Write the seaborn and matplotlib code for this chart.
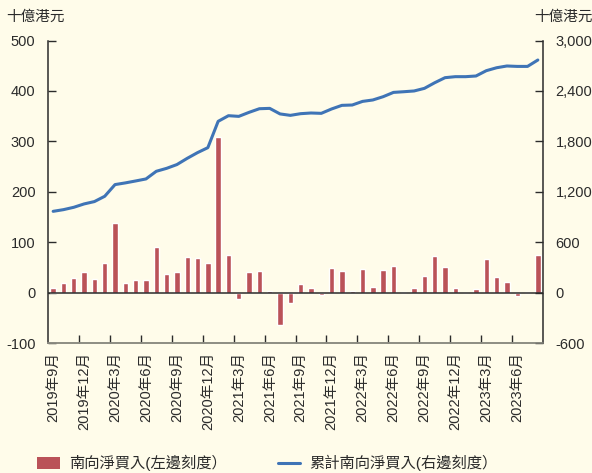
import numpy as np
import pandas as pd
import matplotlib
matplotlib.use("Agg")
import matplotlib.pyplot as plt
from matplotlib.patches import Patch
from matplotlib.lines import Line2D
from matplotlib.ticker import FuncFormatter, FixedLocator
import seaborn as sns

# Monthly southbound net buying (HK$ bn) and the cumulative total
months = pd.period_range("2019-09", "2023-08", freq="M").strftime("%Y-%m").tolist()

net_buy = [9.2, 18.5, 29.7, 41.0, 27.7, 60.0, 138.6, 19.0, 25.7, 25.0,
           90.4, 37.6, 41.0, 70.6, 70.0, 60.0, 309.6, 74.0, -12.5, 42.2,
           42.9, 4.6, -63.4, -19.8, 17.2, 9.2, -4.6, 49.5, 43.6, 4.0,
           48.2, 10.6, 45.5, 52.8, 2.0, 8.6, 34.3, 73.3, 50.2, 9.2,
           0.0, 7.9, 66.7, 31.0, 22.4, -6.6, 2.0, 75.2]

cumulative = [969, 989, 1017, 1057, 1085, 1148, 1287, 1307, 1330, 1354,
              1445, 1480, 1525, 1599, 1667, 1726, 2039, 2106, 2098, 2146,
              2189, 2193, 2127, 2110, 2130, 2138, 2134, 2186, 2229, 2233,
              2276, 2293, 2332, 2383, 2391, 2400, 2431, 2498, 2558, 2570,
              2570, 2578, 2641, 2676, 2697, 2692, 2692, 2768]

tick_labels = [f"{m[:4]}年{int(m[5:])}月" for m in months]

left_ticks = [-100, 0, 100, 200, 300, 400, 500]
right_ticks = [-600, 0, 600, 1200, 1800, 2400, 3000]

unit_label = "十億港元"
bar_label = "南向淨買入(左邊刻度）"
line_label = "累計南向淨買入(右邊刻度）"

BG = "#FFFCEA"
BAR = "#BA5258"
LINE = "#3F74B6"
INK = "#2B2B2B"

sns.set_theme(style="white")
plt.rcParams["font.family"] = ["Liberation Sans", "Noto Sans CJK TC", "DejaVu Sans"]
plt.rcParams["axes.unicode_minus"] = False

df = pd.DataFrame({"month": months, "net": net_buy, "cum": cumulative})

fig = plt.figure(figsize=(5.92, 4.73), dpi=100, facecolor=BG)
ax = fig.add_axes([48 / 592, 1 - 343.3 / 473, (543 - 48) / 592, (343.3 - 40.5) / 473])
ax.set_facecolor(BG)

sns.barplot(data=df, x="month", y="net", order=months, color=BAR,
            width=0.52, saturation=1, ax=ax)
ax.set_xlim(-0.5, len(months) - 0.5)
ax.set_ylim(-100, 500)
ax.axhline(0, color=INK, lw=1.1, zorder=3)

ax2 = ax.twinx()
sns.lineplot(data=df, x="month", y="cum", color=LINE, lw=2.2, ax=ax2, sort=False)
ax2.set_ylim(-600, 3000)
ax.set_xlim(-0.5, len(months) - 0.5)

# x axis: labels every quarter, small marks between the quarters
label_pos = list(range(0, len(months), 3))
ax.set_xticks(label_pos)
ax.set_xticklabels([tick_labels[i] for i in label_pos], rotation=90,
                   fontsize=10.5, color=INK)
ax.tick_params(axis="x", which="major", length=0, pad=6)
ax.xaxis.set_minor_locator(FixedLocator([p + 2.5 for p in label_pos[:-1]]))
ax.tick_params(axis="x", which="minor", direction="in", length=6,
               width=1, color=INK, bottom=True)

ax.set_yticks(left_ticks)
ax.tick_params(axis="y", direction="in", length=6, width=1, color=INK,
               labelsize=10.5, labelcolor=INK, pad=9)
ax2.set_yticks(right_ticks)
ax2.yaxis.set_major_formatter(FuncFormatter(lambda v, _: f"{int(v):,}"))
ax2.tick_params(axis="y", direction="in", length=6, width=1, color=INK,
                labelsize=10.5, labelcolor=INK, pad=9)

for a in (ax, ax2):
    a.set_xlabel("")
    a.set_ylabel("")
    a.spines["top"].set_visible(False)
    a.spines["left"].set_color(INK)
    a.spines["right"].set_color(INK)
    a.spines["bottom"].set_color("#8A8A80")
    for s in ("left", "right", "bottom"):
        a.spines[s].set_linewidth(1.1)
ax2.spines["left"].set_visible(False)
ax.spines["right"].set_visible(False)

fig.text(35 / 592, 1 - 17 / 473, unit_label, ha="center", va="center",
         fontsize=10.5, color=INK)
fig.text(563 / 592, 1 - 17 / 473, unit_label, ha="center", va="center",
         fontsize=10.5, color=INK)

handles = [Patch(facecolor=BAR, edgecolor="none"),
           Line2D([], [], color=LINE, lw=2.2)]
fig.legend(handles, [bar_label, line_label], loc="center",
           bbox_to_anchor=(0.452, 1 - 463 / 473), ncol=2, frameon=False,
           fontsize=11, handlelength=1.5, handleheight=0.8,
           columnspacing=3.3, handletextpad=0.6, labelcolor=INK)

fig.savefig("out.png", dpi=100, facecolor=BG)
